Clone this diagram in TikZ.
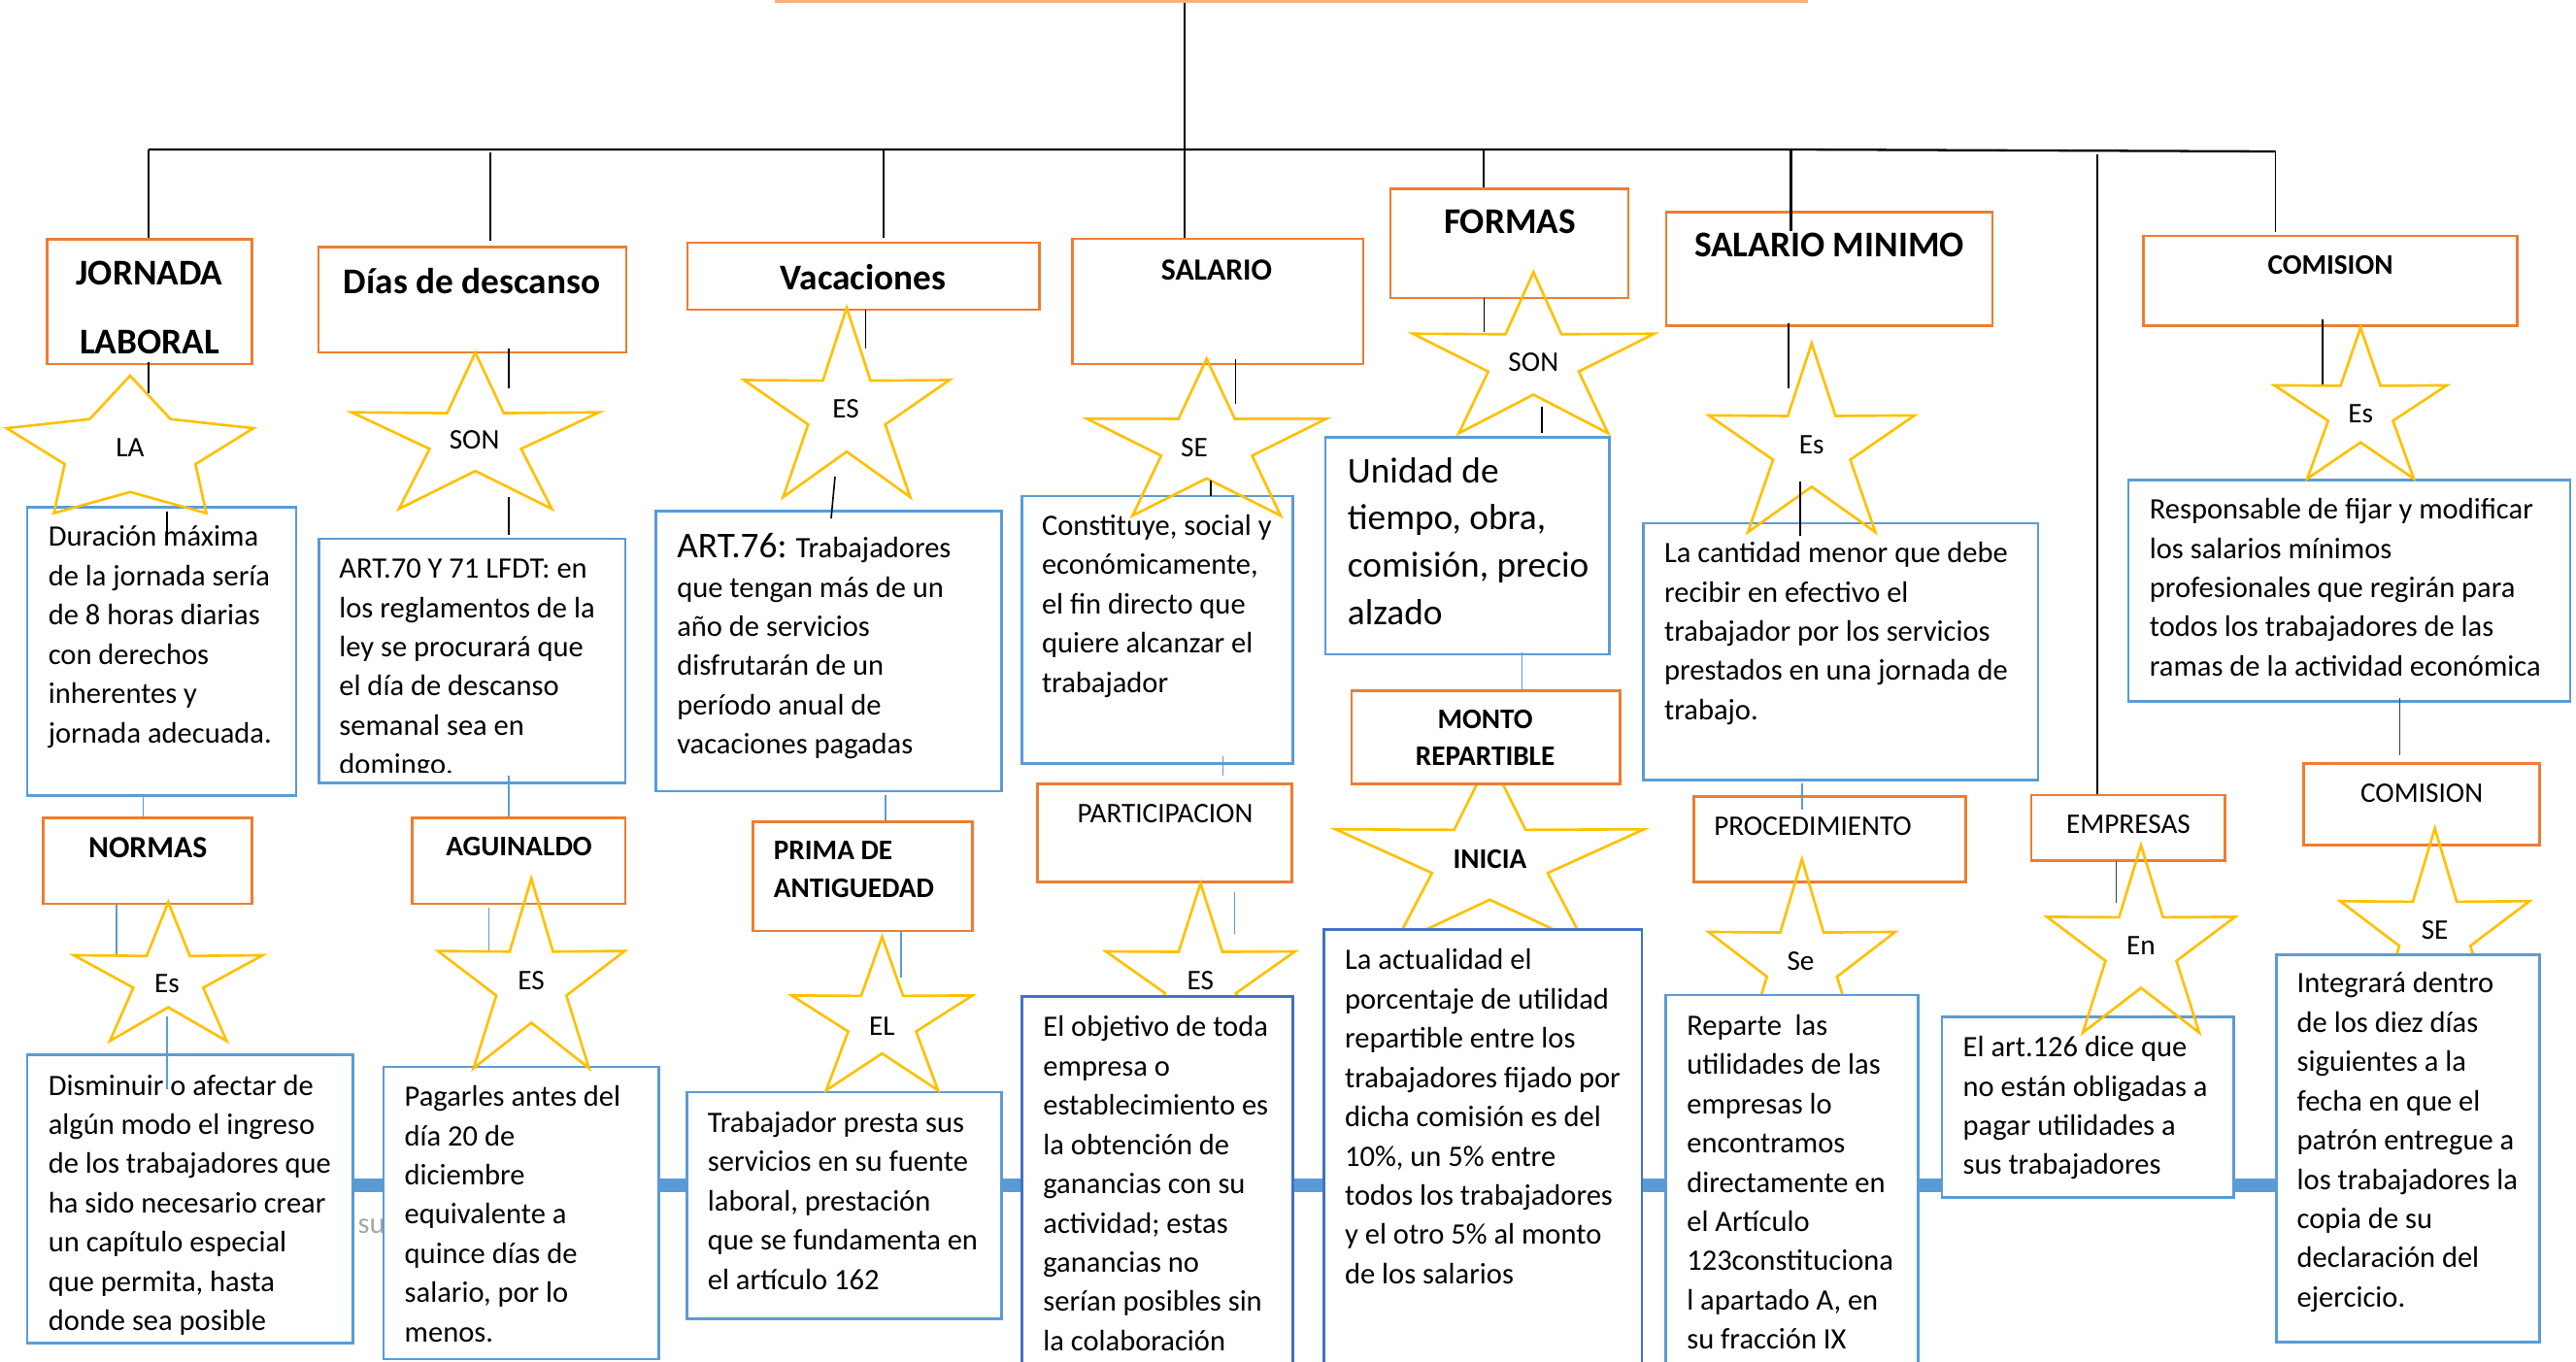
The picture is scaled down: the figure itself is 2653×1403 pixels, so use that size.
\documentclass[tikz,border=0pt]{standalone}
\usepackage{fontspec}
\setmainfont{Carlito}
\usetikzlibrary{fit}
\definecolor{borange}{HTML}{ED7D31}
\definecolor{lorange}{HTML}{F4B183}
\definecolor{bblue}{HTML}{5B9BD5}
\definecolor{dblue}{HTML}{4472C4}
\definecolor{syellow}{HTML}{FFC000}
\definecolor{lgray}{HTML}{A6A6A6}
\definecolor{dgray}{HTML}{404040}
\newcommand\fbody{\fontsize{8.68pt}{11.49pt}\selectfont}
\newcommand\flarge{\fontsize{10.61pt}{13.83pt}\selectfont}
\newcommand\ftitle{\fontsize{10.61pt}{12.7pt}\selectfont\bfseries}
\newcommand\fmid{\fontsize{9.02pt}{11pt}\selectfont\bfseries}
\newcommand\fsmallb{\fontsize{8.31pt}{10pt}\selectfont\bfseries}
\newcommand\fsmall{\fontsize{8.31pt}{10pt}\selectfont}
% star: cx cy Rx Ry k
\newcommand\drawstar[5]{%
  \draw[starline] (#1,{#2-#4})
  \foreach \i in {1,...,9}{ -- ({#1+#3*(1-(1-#5)*mod(\i,2))*cos(90+36*\i)},{#2-#4*(1-(1-#5)*mod(\i,2))*sin(90+36*\i)}) } -- cycle;}
\begin{document}
\begin{tikzpicture}[x=0.01cm,y=-0.01cm,
  obox/.style={draw=borange,line width=0.8pt,fill=white,inner sep=0pt},
  tbox/.style={draw=lorange,line width=0.9pt,fill=white,inner sep=0pt},
  bbox/.style={draw=bblue,line width=0.8pt,fill=white,inner sep=0pt},
  dbox/.style={draw=dblue,line width=0.8pt,fill=white,inner sep=0pt},
  treeline/.style={draw=black,line width=0.65pt},
  link/.style={draw=black,line width=0.45pt},
  glink/.style={draw=dgray,line width=0.5pt},
  blink/.style={draw=bblue,line width=0.45pt},
  bar/.style={draw=bblue,line width=4pt},
  starline/.style={draw=syellow,line width=0.75pt,line join=miter},
  txt/.style={inner sep=0pt,anchor=north west,align=left,font=\fbody},
  lbl/.style={inner sep=0pt,anchor=base}]
\useasboundingbox (0,0) rectangle (2653,1403);
\clip (0,0) rectangle (2653,1403);

% thick bar behind bottom row
\coordinate (barL) at (363,1221);
\coordinate (barR) at (2344,1221);
\draw[bar] (barL) -- (barR);
\node[lbl,anchor=base west,font=\fbody,text=lgray] (hid) at (368,1270) {su};

% title box (cut off)
\node[tbox,fit={(800,-60) (1860,1.5)}] (title) {};

% ---- row 1 title boxes
\node[obox,fit={(48.3,246.4) (259.6,375)}] (jorn) {};
\node[obox,fit={(328,254.6) (645,363)}] (dias) {};
\node[obox,fit={(708,250) (1070.5,319)}] (vac) {};
\node[obox,fit={(1104.4,246) (1404,375)}] (sal) {};
\node[obox,fit={(1432,194.6) (1677,307)}] (form) {};
\node[obox,fit={(1716,218.6) (2052,335.7)}] (smin) {};
\node[obox,fit={(2207.5,243) (2592.6,335.7)}] (com) {};

\node[lbl,font=\ftitle] (tjorn1) at (154,293.8) {JORNADA};
\node[lbl,font=\ftitle] (tjorn2) at (154,364.8) {LABORAL};
\node[lbl,font=\ftitle] (tdias) at (486,302.7) {Días de descanso};
\node[lbl,font=\ftitle] (tvac) at (889,298.8) {Vacaciones};
\node[lbl,font=\fmid] (tsal) at (1253,288.5) {SALARIO};
\node[lbl,font=\ftitle] (tform) at (1555,240.3) {FORMAS};
\node[lbl,font=\ftitle] (tsmin) at (1884,264.8) {SALARIO MINIMO};
\node[lbl,font=\fsmallb] (tcom) at (2400,282.2) {COMISION};

% ---- row 1 content boxes
\node[bbox,fit={(28,522.7) (305,819.3)}] (dur) {};
\node[bbox,fit={(328.3,555) (644,806.7)}] (a70) {};
\node[bbox,fit={(675.5,526.7) (1031.2,815)}] (a76) {};
\node[bbox,fit={(1052.6,511) (1331.8,786.7)}] (cons) {};
\node[bbox,fit={(1365,450.7) (1657.5,674)}] (unid) {};
\node[bbox,fit={(1692.4,539) (2099,803.3)}] (cant) {};
\node[bbox,fit={(2192,494.3) (2647,722.3)}] (resp) {};

\node[txt] (tdur) at (49.1,534.0) {\strut Duración máxima\\de la jornada sería\\de 8 horas diarias\\con derechos\\inherentes y\\jornada adecuada.};
\begin{scope}
\clip (328.3,555) rectangle (644,795);
\node[txt] (ta70) at (348.7,566.7) {\strut ART.70 Y 71 LFDT: en\\los reglamentos de la\\ley se procurará que\\el día de descanso\\semanal sea en\\domingo.};
\end{scope}
\node[txt] (ta76) at (696.6,545.7) {\strut{\flarge ART.76:} Trabajadores\\que tengan más de un\\año de servicios\\disfrutarán de un\\período anual de\\vacaciones pagadas};
\node[txt] (tcons) at (1072.3,522.4) {\strut Constituye, social y\\económicamente,\\el fin directo que\\quiere alcanzar el\\trabajador};
\node[txt,font=\flarge] (tunid) at (1387.2,462.4) {\strut Unidad de\\tiempo, obra,\\comisión, precio\\alzado};
\node[txt] (tcant) at (1713.4,550.7) {\strut La cantidad menor que debe\\recibir en efectivo el\\trabajador por los servicios\\prestados en una jornada de\\trabajo.};
\node[txt] (tresp) at (2213.2,505.7) {\strut Responsable de fijar y modificar\\los salarios mínimos\\profesionales que regirán para\\todos los trabajadores de las\\ramas de la actividad económica};

% ---- row 2 title boxes
\node[obox,fit={(44.2,842.7) (259.6,931)}] (norm) {};
\node[obox,fit={(424.4,842.7) (644,931)}] (agui) {};
\node[obox,fit={(775.9,846.7) (1001.8,959)}] (prim) {};
\node[obox,fit={(1068.7,807.3) (1330.4,908.3)}] (part) {};
\node[obox,fit={(1744.3,820.7) (2024.2,908.3)}] (proc) {};
\node[obox,fit={(2092,819) (2291.4,886.7)}] (empr) {};
\node[obox,fit={(2372.1,786.7) (2615.7,870.7)}] (com2) {};

\node[lbl,font=\fmid] (tnorm) at (152.2,883.4) {NORMAS};
\node[lbl,font=\fsmallb] (tagui) at (534.5,881.5) {AGUINALDO};
\node[lbl,anchor=base west,font=\fsmallb] (tprim1) at (796.2,885.9) {PRIMA DE};
\node[lbl,anchor=base west,font=\fsmallb] (tprim2) at (796.2,924.2) {ANTIGUEDAD};
\node[lbl,font=\fsmall] (tpart) at (1200,847) {PARTICIPACION};
\node[lbl,font=\fsmall] (tproc) at (1867,860.2) {PROCEDIMIENTO};
\node[lbl,font=\fsmall] (tempr) at (2192,858.2) {EMPRESAS};
\node[lbl,font=\fsmall] (tcom2) at (2494.1,826) {COMISION};

% ---- row 2 content boxes (under stars)
\node[bbox,fit={(28,1086.7) (363.4,1383.3)}] (dism) {};
\node[bbox,fit={(395,1099) (678.4,1400)}] (pag) {};
\node[bbox,fit={(707.1,1125) (1031.2,1358.3)}] (trab) {};
\node[bbox,fit={(1999.9,1047.7) (2300.1,1233.3)}] (art) {};

\node[txt] (tdism) at (49.1,1099.0) {\strut Disminuir o afectar de\\algún modo el ingreso\\de los trabajadores que\\ha sido necesario crear\\un capítulo especial\\que permita, hasta\\donde sea posible};
\node[txt] (tpag) at (416,1110.7) {\strut Pagarles antes del\\día 20 de\\diciembre\\equivalente a\\quince días de\\salario, por lo\\menos.};
\node[txt] (ttrab) at (728.2,1137.4) {\strut Trabajador presta sus\\servicios en su fuente\\laboral, prestación\\que se fundamenta en\\el artículo 162};
\node[txt] (tart) at (2021,1059.7) {\strut El art.126 dice que\\no están obligadas a\\pagar utilidades a\\sus trabajadores};

% ---- stars
\drawstar{134}{465.3}{133.6}{78.3}{0.53}
\drawstar{489.6}{452.2}{134}{89}{0.37}
\drawstar{872}{424.8}{111.3}{107.8}{0.375}
\drawstar{1242.7}{458.9}{129.7}{89.3}{0.38}
\drawstar{1579.3}{372.1}{130.7}{91.7}{0.375}
\drawstar{1865.8}{461.1}{111.5}{107.5}{0.375}
\drawstar{2431.1}{423.5}{93.4}{86}{0.375}
\drawstar{173.3}{1008.4}{102.3}{79}{0.37}
\drawstar{547.2}{1013}{101.2}{108}{0.375}
\drawstar{908.5}{1052.4}{98}{87.4}{0.375}
\drawstar{1236.4}{1011.3}{102.5}{101.3}{0.375}
\drawstar{1534.4}{887}{167}{106}{0.375}
\drawstar{1855.8}{993.5}{101.1}{108.5}{0.375}
\drawstar{2205}{977.4}{102}{106.7}{0.377}
\drawstar{2507.6}{961.8}{102.5}{108.5}{0.375}

\node[lbl,font=\fsmall] (sLA) at (134,470) {LA};
\node[lbl,font=\fsmall] (sSON1) at (488.6,462.8) {SON};
\node[lbl,font=\fsmall] (sES1) at (871,430.6) {ES};
\node[lbl,font=\fsmall] (sSE1) at (1230,470) {SE};
\node[lbl,font=\fsmall] (sSON2) at (1579.3,382.4) {SON};
\node[lbl,font=\fsmall] (sEs1) at (1865.8,467) {Es};
\node[lbl,font=\fsmall] (sEs2) at (2431.1,435) {Es};
\node[lbl,font=\fsmall] (sEs3) at (171.9,1022.5) {Es};
\node[lbl,font=\fsmall] (sES2) at (547.2,1019.2) {ES};
\node[lbl,font=\fsmall] (sEL) at (908.5,1066) {EL};
\node[lbl,font=\fsmall] (sES3) at (1236.4,1019.2) {ES};
\node[lbl,font=\fsmallb] (sINI) at (1534.5,894.2) {INICIA};
\node[lbl,font=\fsmall] (sSe) at (1854.5,999.2) {Se};
\node[lbl,font=\fsmall] (sEn) at (2205,983.2) {En};
\node[lbl,font=\fsmall] (sSE2) at (2507.6,967.5) {SE};

% ---- boxes drawn over stars
\node[obox,fit={(1392,711.7) (1668.5,807.3)}] (mont) {};
\node[lbl,font=\fsmallb] (tmont1) at (1529.6,750) {MONTO};
\node[lbl,font=\fsmallb] (tmont2) at (1529.6,788.6) {REPARTIBLE};
\node[dbox,fit={(1052.6,1026.7) (1331.8,1460)}] (obj) {};
\node[dbox,fit={(1363.4,957.7) (1691,1460)}] (act) {};
\node[bbox,fit={(1715.5,1025) (1975.1,1460)}] (rep) {};
\node[bbox,fit={(2344.3,983.3) (2615.7,1382.7)}] (integ) {};

\node[txt] (tobj) at (1073.7,1039.0) {\strut El objetivo de toda\\empresa o\\establecimiento es\\la obtención de\\ganancias con su\\actividad; estas\\ganancias no\\serían posibles sin\\la colaboración};
\node[txt] (tact) at (1384.4,970.0) {\strut La actualidad el\\porcentaje de utilidad\\repartible entre los\\trabajadores fijado por\\dicha comisión es del\\10\%, un 5\% entre\\todos los trabajadores\\y el otro 5\% al monto\\de los salarios};
\node[txt] (trep) at (1736.6,1037.4) {\strut Reparte~ las\\utilidades de las\\empresas lo\\encontramos\\directamente en\\el Artículo\\123constituciona\\l apartado A, en\\su fracción IX};
\node[txt] (tinteg) at (2365,994.0) {\strut Integrará dentro\\de los diez días\\siguientes a la\\fecha en que el\\patrón entregue a\\los trabajadores la\\copia de su\\declaración del\\ejercicio.};

% ---- tree
\coordinate (top) at (1220,7);
\coordinate (h1) at (153,154);
\coordinate (h2) at (1844.5,154);
\coordinate (h3) at (2343.5,156);
\draw[treeline] (top |- title.south) -- (top |- sal.north);
\draw[treeline] (h1) -- (h2) -- (h3);
\draw[treeline] (h1) -- (h1 |- jorn.north);
\coordinate (d2a) at (505,157); \coordinate (d2b) at (505,248);
\draw[treeline] (d2a) -- (d2b);
\coordinate (d3) at (910,154);
\draw[treeline] (d3) -- (910,245);
\coordinate (d5) at (1528,154);
\draw[treeline] (d5) -- (d5 |- form.north);
\coordinate (d6b) at (1844.5,237.5);
\draw[treeline] (h2) -- (d6b);
\coordinate (d7) at (2160,159);
\draw[link] (d7) -- (d7 |- empr.north);
\coordinate (d8b) at (2343.5,238.6);
\draw[link] (h3) -- (d8b);

% ---- short black connectors
\coordinate (k1a) at (153,373); \coordinate (k1b) at (153,405);
\draw[link] (k1a) -- (k1b);
\coordinate (k2a) at (172,527); \coordinate (k2b) at (172,562);
\draw[link] (k2a) -- (k2b);
\coordinate (k3a) at (524.2,359); \coordinate (k3b) at (524.2,400);
\draw[link] (k3a) -- (k3b);
\coordinate (k4a) at (524,511.5); \coordinate (k4b) at (524,551);
\draw[link] (k4a) -- (k4b);
\coordinate (k5a) at (891.5,319); \coordinate (k5b) at (891.5,359);
\draw[link] (k5a) -- (k5b);
\coordinate (k6a) at (860,491); \coordinate (k6b) at (856,534);
\draw[link] (k6a) -- (k6b);
\coordinate (k7a) at (1272.3,369.6); \coordinate (k7b) at (1272.3,416);
\draw[link] (k7a) -- (k7b);
\coordinate (k8a) at (1247,495); \coordinate (k8b) at (1247,511);
\draw[link] (k8a) -- (k8b);
\coordinate (k9a) at (1528.3,307); \coordinate (k9b) at (1528.3,342);
\draw[link] (k9a) -- (k9b);
\coordinate (k10a) at (1588,418.6); \coordinate (k10b) at (1588,446.4);
\draw[link] (k10a) -- (k10b);
\coordinate (k11a) at (1842,333); \coordinate (k11b) at (1842,400);
\draw[link] (k11a) -- (k11b);
\coordinate (k12a) at (1854,496.4); \coordinate (k12b) at (1854,551.7);
\draw[link] (k12a) -- (k12b);
\coordinate (k13a) at (2392,329); \coordinate (k13b) at (2392,395.7);
\draw[link] (k13a) -- (k13b);
\coordinate (k14a) at (2471.6,719.3); \coordinate (k14b) at (2471.6,778.3);
\draw[glink] (k14a) -- (k14b);
\coordinate (k15a) at (2179.5,887); \coordinate (k15b) at (2179.5,930);
\draw[glink] (k15a) -- (k15b);

% ---- thin blue connectors
\coordinate (b1) at (147.3,819); \draw[blink] (b1) -- (b1 |- norm.north);
\coordinate (b2) at (524,799); \draw[blink] (b2) -- (b2 |- agui.north);
\coordinate (b3) at (912,819.3); \draw[blink] (b3) -- (b3 |- prim.north);
\coordinate (b4) at (1259.6,779.3); \coordinate (b4b) at (1259.6,799); \draw[blink] (b4) -- (b4b);
\coordinate (b5) at (1567.5,671.7); \draw[blink] (b5) -- (b5 |- mont.north);
\coordinate (b6a) at (1855.8,807.3); \coordinate (b6b) at (1855.8,834.3); \draw[blink] (b6a) -- (b6b);
\coordinate (b7a) at (120,931.7); \coordinate (b7b) at (120,983.3); \draw[blink] (b7a) -- (b7b);
\coordinate (b8a) at (171.9,1046.7); \coordinate (b8b) at (171.9,1121.7); \draw[blink] (b8a) -- (b8b);
\coordinate (b9a) at (503.7,935); \coordinate (b9b) at (503.7,979); \draw[blink] (b9a) -- (b9b);
\coordinate (b10a) at (928,960); \coordinate (b10b) at (928,1006.7); \draw[blink] (b10a) -- (b10b);
\coordinate (b11a) at (1271.5,919); \coordinate (b11b) at (1271.5,962.3); \draw[blink] (b11a) -- (b11b);
\end{tikzpicture}
\end{document}
